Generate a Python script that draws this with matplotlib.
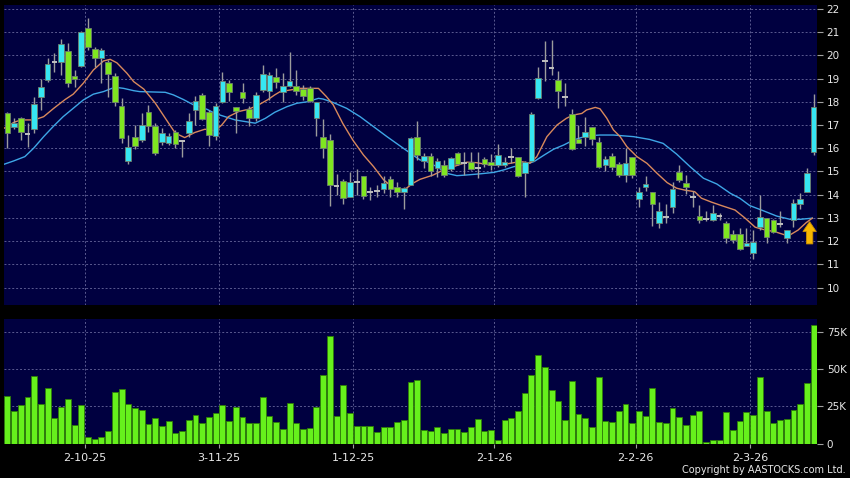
import numpy as np
import matplotlib.pyplot as plt
from matplotlib.patches import Rectangle, FancyArrow

# ------------------------------------------------------------
# daily OHLC, volume in thousands
# ------------------------------------------------------------
opens = [17.5, 16.9, 17.3, 16.6, 16.82, 18.2, 18.94, 19.7, 19.7, 20.2,
         19.13, 19.56, 21.2, 20.26, 19.87, 19.7, 19.13, 17.8, 15.47, 16.5,
         16.36, 17.55, 16.98, 16.26, 16.21, 16.69, 16.31, 16.65, 17.65, 18.3,
         17.58, 16.53, 18.0, 18.8, 17.79, 18.44, 17.68, 17.29, 18.51, 18.47,
         19.09, 18.41, 18.7, 18.7, 18.54, 18.61, 17.29, 16.5, 16.36, 14.36,
         14.57, 13.92, 14.53, 14.8, 14.12, 14.17, 14.24, 14.66, 14.32, 14.1,
         14.43, 16.5, 15.47, 15.67, 15.14, 15.28, 15.1, 15.79, 15.35, 15.4,
         15.14, 15.53, 15.43, 15.28, 15.28, 15.64, 15.61, 14.92, 15.47, 18.18,
         19.76, 19.47, 18.94, 18.2, 17.48, 16.39, 16.5, 16.9, 16.29, 15.26,
         15.67, 15.32, 14.85, 15.61, 13.8, 14.32, 14.1, 12.77, 13.05, 13.49,
         14.99, 14.49, 13.89, 13.1, 12.94, 12.91, 13.09, 12.8, 12.3, 12.3,
         11.77, 11.51, 12.6, 12.99, 12.91, 12.74, 12.13, 12.91, 13.6, 14.13,
         15.82]
highs = [17.55, 17.3, 17.36, 17.07, 18.2, 19.0, 19.88, 20.1, 20.7, 20.52,
         19.37, 21.07, 21.63, 20.38, 20.3, 19.8, 19.23, 18.16, 16.57, 17.0,
         17.5, 17.87, 17.07, 16.87, 16.65, 16.8, 16.36, 17.5, 18.23, 18.37,
         17.65, 17.94, 19.27, 18.94, 17.79, 18.83, 17.8, 18.41, 19.59, 19.3,
         19.45, 19.23, 20.13, 19.37, 18.73, 18.68, 18.0, 17.26, 16.6, 14.9,
         14.68, 14.97, 15.1, 14.8, 14.35, 14.42, 14.8, 14.8, 14.56, 14.35,
         16.5, 17.19, 15.81, 15.79, 15.57, 15.5, 15.61, 15.86, 15.86, 15.86,
         15.86, 15.64, 15.76, 16.18, 15.64, 16.0, 15.64, 15.46, 17.55, 19.5,
         20.6, 20.67, 19.34, 18.8, 17.68, 17.0, 17.36, 16.93, 16.5, 15.67,
         15.79, 15.43, 15.99, 15.64, 14.35, 14.8, 14.13, 13.7, 13.6, 14.56,
         15.27, 14.86, 14.18, 13.56, 13.3, 13.56, 13.2, 12.85, 12.48, 12.58,
         12.58, 12.48, 14.0, 12.99, 12.94, 13.31, 12.5, 13.8, 14.06, 15.14,
         18.35]
lows = [16.0, 16.85, 16.36, 16.07, 16.67, 17.65, 18.87, 19.3, 19.16, 18.63,
        18.63, 19.5, 20.24, 19.5, 18.83, 18.2, 17.8, 16.24, 15.31, 15.95,
        16.29, 16.7, 15.69, 16.14, 16.14, 16.0, 15.61, 16.5, 17.0, 17.22,
        16.11, 16.36, 17.94, 18.05, 16.65, 17.97, 16.96, 17.19, 18.41, 18.1,
        18.58, 18.0, 18.63, 18.3, 18.1, 18.0, 16.53, 15.6, 13.5, 14.0,
        13.59, 13.92, 14.0, 13.82, 13.77, 13.91, 14.07, 13.92, 13.92, 13.4,
        14.4, 15.5, 15.14, 14.79, 14.75, 14.78, 15.0, 15.28, 14.85, 15.07,
        14.71, 15.21, 15.05, 15.21, 15.21, 15.35, 14.75, 13.92, 15.43, 18.11,
        18.9, 19.16, 17.72, 17.8, 15.93, 16.24, 16.1, 16.15, 15.14, 15.0,
        15.07, 14.75, 14.56, 14.71, 13.49, 14.18, 12.65, 12.58, 12.8, 13.2,
        14.56, 14.03, 13.46, 12.8, 12.88, 12.85, 12.91, 11.9, 11.91, 11.6,
        11.77, 11.25, 12.48, 11.91, 12.34, 12.63, 11.91, 12.63, 13.37, 14.1,
        15.71]
closes = [16.65, 17.08, 16.7, 16.6, 17.9, 18.66, 19.62, 19.7, 20.5, 18.8,
          19.0, 21.0, 20.38, 19.87, 20.23, 19.2, 17.98, 16.46, 16.07, 16.11,
          17.0, 16.98, 15.79, 16.65, 16.53, 16.17, 16.31, 17.19, 18.05, 17.26,
          16.57, 17.82, 18.91, 18.41, 17.6, 18.15, 17.29, 18.3, 19.2, 19.16,
          18.84, 18.7, 18.91, 18.48, 18.27, 18.05, 17.98, 16.03, 14.41, 14.36,
          13.87, 14.53, 14.53, 13.95, 14.12, 14.17, 14.5, 14.23, 14.1, 14.28,
          16.43, 15.71, 15.67, 15.0, 15.47, 14.85, 15.57, 15.32, 15.35, 15.11,
          15.14, 15.32, 15.26, 15.7, 15.43, 15.64, 14.81, 15.43, 17.46, 19.01,
          19.76, 19.47, 18.47, 18.2, 15.96, 16.24, 16.72, 16.39, 15.21, 15.53,
          15.18, 14.85, 15.35, 14.85, 14.1, 14.46, 13.59, 13.31, 13.05, 14.23,
          14.63, 14.32, 13.89, 12.91, 12.94, 13.2, 13.09, 12.13, 12.06, 11.65,
          11.91, 11.98, 13.03, 12.17, 12.41, 12.74, 12.48, 13.63, 13.8, 14.92,
          17.78]
volume_k = [32.0, 22.1, 25.9, 31.5, 45.7, 26.6, 37.4, 17.3, 24.8, 29.7,
            12.8, 25.7, 4.5, 3.2, 4.7, 8.1, 34.5, 36.7, 26.6, 23.9,
            22.5, 13.1, 17.1, 11.7, 14.9, 6.8, 8.3, 15.8, 18.9, 14.0,
            18.0, 20.3, 25.7, 15.1, 24.3, 18.0, 14.0, 14.0, 31.1, 18.5,
            14.6, 10.1, 27.5, 14.1, 9.7, 10.7, 24.8, 46.2, 72.5, 18.6,
            39.4, 20.3, 11.9, 11.9, 11.6, 7.5, 11.0, 11.0, 14.6, 15.8,
            41.7, 42.7, 9.0, 8.2, 10.8, 7.1, 9.5, 9.5, 7.5, 10.9,
            16.7, 8.6, 9.0, 2.6, 15.8, 17.4, 22.2, 33.8, 46.3, 59.6,
            51.8, 36.0, 28.8, 15.8, 42.1, 19.8, 17.3, 11.3, 45.0, 15.3,
            14.2, 22.1, 26.8, 13.5, 22.1, 18.5, 37.6, 14.4, 13.5, 24.1,
            18.0, 12.4, 18.9, 21.8, 0.8, 2.2, 2.2, 21.1, 9.0, 15.1,
            21.5, 18.9, 44.8, 21.8, 13.7, 16.0, 16.4, 22.6, 26.4, 40.6,
            80.0]

# moving averages, read at sample bar positions
ma_short_x = [-0.5, 1, 2, 4, 5.4, 6.9, 8.6, 9.8, 11.3, 12.8, 14.3, 15.3, 16.3,
              17.8, 18.8, 20.3, 22, 24, 25, 26.4, 27.9, 29.4, 30.9, 31.9, 32.9,
              34.4, 35.9, 37.4, 38.8, 39.8, 40.6, 42.1, 43.6, 46.3, 47.5, 48.5,
              49.9, 51.4, 53, 54.5, 56, 57.5, 58.5, 59.4, 60.4, 61.4, 63.4, 64.9,
              66.4, 68.4, 69.8, 71.8, 73.3, 74.8, 76.3, 77.8, 78.8, 80.3, 81.8,
              83.2, 84.2, 85.5, 86.2, 87.5, 88.2, 89.2, 90.2, 91.2, 92.2, 93.7,
              95.2, 96.7, 98.2, 99.6, 100.8, 102.3, 103.3, 104.8, 106.3, 108.3,
              109.8, 111.3, 112.8, 114.2, 115.7, 116.5, 117.7, 118.9, 119.8]
ma_short_y = [16.86, 17.12, 17.22, 17.22, 17.36, 17.72, 18.1, 18.33, 18.8, 19.37,
              19.76, 19.83, 19.68, 19.23, 18.87, 18.55, 17.95, 17.08, 16.65, 16.46,
              16.68, 16.82, 16.75, 17.0, 17.36, 17.58, 17.68, 17.87, 18.1, 18.3,
              18.44, 18.51, 18.58, 18.58, 18.22, 17.87, 17.08, 16.36, 15.71, 15.21,
              14.64, 14.28, 14.2, 14.28, 14.5, 14.66, 14.85, 15.07, 15.21, 15.4,
              15.38, 15.28, 15.28, 15.35, 15.43, 15.36, 15.64, 16.5, 17.0, 17.29,
              17.43, 17.5, 17.65, 17.76, 17.7, 17.3, 16.79, 16.5, 16.07, 15.64,
              15.35, 14.92, 14.52, 14.28, 14.2, 14.13, 13.85, 13.68, 13.53, 13.34,
              12.99, 12.6, 12.48, 12.41, 12.27, 12.27, 12.48, 12.8, 12.99]
ma_long_x = [-0.5, 0.9, 2.6, 3.9, 5.4, 6.9, 8.3, 9.8, 11.3, 12.8, 14.3, 16, 17.3,
             18.8, 19.7, 23.5, 24.7, 26.2, 27.7, 29.7, 30.9, 32.4, 33.9, 35.4,
             36.9, 38.4, 39.8, 41.6, 43.1, 44.6, 46.3, 47, 48.5, 50.5, 52.5, 54.5,
             56.5, 58.5, 60.4, 61.4, 62.4, 63.9, 65.4, 66.9, 68.4, 70.4, 72.4,
             73.9, 75.4, 76.9, 78.4, 79.9, 81.3, 82.8, 84.3, 86.2, 88.2, 90.2,
             93.2, 95.6, 97.6, 99.6, 101.6, 103.6, 105.6, 107.6, 109, 110.5,
             112.5, 114.5, 116.5, 118, 119.8]
ma_long_y = [15.31, 15.45, 15.64, 16.0, 16.5, 16.96, 17.36, 17.72, 18.08, 18.33,
             18.44, 18.63, 18.58, 18.48, 18.44, 18.41, 18.3, 18.1, 17.87, 17.68,
             17.5, 17.36, 17.22, 17.15, 17.08, 17.29, 17.55, 17.79, 17.94, 18.0,
             18.15, 18.12, 17.97, 17.72, 17.36, 16.93, 16.5, 16.09, 15.7, 15.5,
             15.43, 15.21, 14.92, 14.82, 14.85, 14.9, 14.96, 15.07, 15.21, 15.28,
             15.43, 15.71, 15.96, 16.14, 16.36, 16.53, 16.57, 16.57, 16.5, 16.38,
             16.21, 15.75, 15.21, 14.71, 14.46, 14.06, 13.85, 13.53, 13.31, 13.08,
             12.94, 12.94, 12.99]

date_labels = ['2-10-25', '3-11-25', '1-12-25', '2-1-26', '2-2-26', '2-3-26']
date_pos = [11.5, 31.5, 51.5, 72.5, 93.5, 110.6]
price_ticks = list(range(10, 23))
vol_ticks = [0, 25, 50, 75]
vol_tick_labels = ['0', '25K', '50K', '75K']

# ------------------------------------------------------------
# styling
# ------------------------------------------------------------
PANEL = '#000040'
GRID = '#5a5a90'
UP = '#36e6f2'
DOWN = '#7fe620'
WICK = '#9c9c9c'
VOL = '#66f01c'
TXT = '#e8e8e8'

W, H = 850, 478
fig = plt.figure(figsize=(W / 100, H / 100), dpi=100, facecolor='black')
ax = fig.add_axes([4 / W, 1 - 305 / H, 813 / W, 300 / H])
axv = fig.add_axes([4 / W, 1 - 443.5 / H, 813 / W, 124.5 / H])

for a in (ax, axv):
    a.set_facecolor(PANEL)
    for s in a.spines.values():
        s.set_visible(False)
    a.set_xlim(-0.5, 120.5)
    a.yaxis.tick_right()
    a.tick_params(axis='y', colors='#a0a0a0', labelcolor=TXT, labelsize=7.5,
                  length=4, width=0.8, pad=3)
    for p in date_pos:
        a.axvline(p, color=GRID, lw=0.7, ls=(0, (2, 2)), zorder=0)

n = len(opens)
x = np.arange(n)

# price panel
ax.set_ylim(9.25, 22.17)
ax.set_yticks(price_ticks)
ax.set_yticklabels([str(t) for t in price_ticks])
for t in price_ticks:
    ax.axhline(t, color=GRID, lw=0.7, ls=(0, (2, 2)), zorder=0)
ax.set_xticks([])

ax.plot(ma_long_x, ma_long_y, color='#3ea6e6', lw=1.0, zorder=1.5)
ax.plot(ma_short_x, ma_short_y, color='#d9895c', lw=1.0, zorder=1.6)

ax.vlines(x, lows, highs, color=WICK, lw=1.0, zorder=2)
bw = 0.84
for i in range(n):
    o, c = opens[i], closes[i]
    if abs(c - o) < 1e-9:
        ax.hlines(o, i - bw / 2, i + bw / 2, color='#c0c0c0', lw=1.4, zorder=3)
        continue
    col = UP if c > o else DOWN
    ax.add_patch(Rectangle((i - bw / 2, min(o, c)), bw, abs(c - o),
                           facecolor=col, edgecolor='#6e7f6e', lw=0.6, zorder=3))

ax.add_patch(FancyArrow(119.4, 11.88, 0, 0.96, width=0.95, head_width=2.0,
                        head_length=0.43, length_includes_head=True,
                        facecolor='#f7b700', edgecolor='#c98d00', lw=0.6, zorder=4))

# volume panel
axv.bar(x, volume_k, width=0.88, color=VOL, edgecolor='#2f7d08', lw=0.6, zorder=2)
axv.set_ylim(0, 84)
axv.set_yticks(vol_ticks)
axv.set_yticklabels(vol_tick_labels)
for t in vol_ticks[1:]:
    axv.axhline(t, color=GRID, lw=0.7, ls=(0, (2, 2)), zorder=0)
axv.set_xticks(date_pos)
axv.set_xticklabels(date_labels)
axv.tick_params(axis='x', colors='#a0a0a0', labelcolor=TXT, labelsize=8,
                length=3, width=0.8, pad=4)

fig.text(846 / W, 1 - 470 / H, 'Copyright by AASTOCKS.com Ltd.', color=TXT,
         fontsize=7, ha='right', va='center')

fig.savefig('out.png', dpi=100, facecolor='black')
